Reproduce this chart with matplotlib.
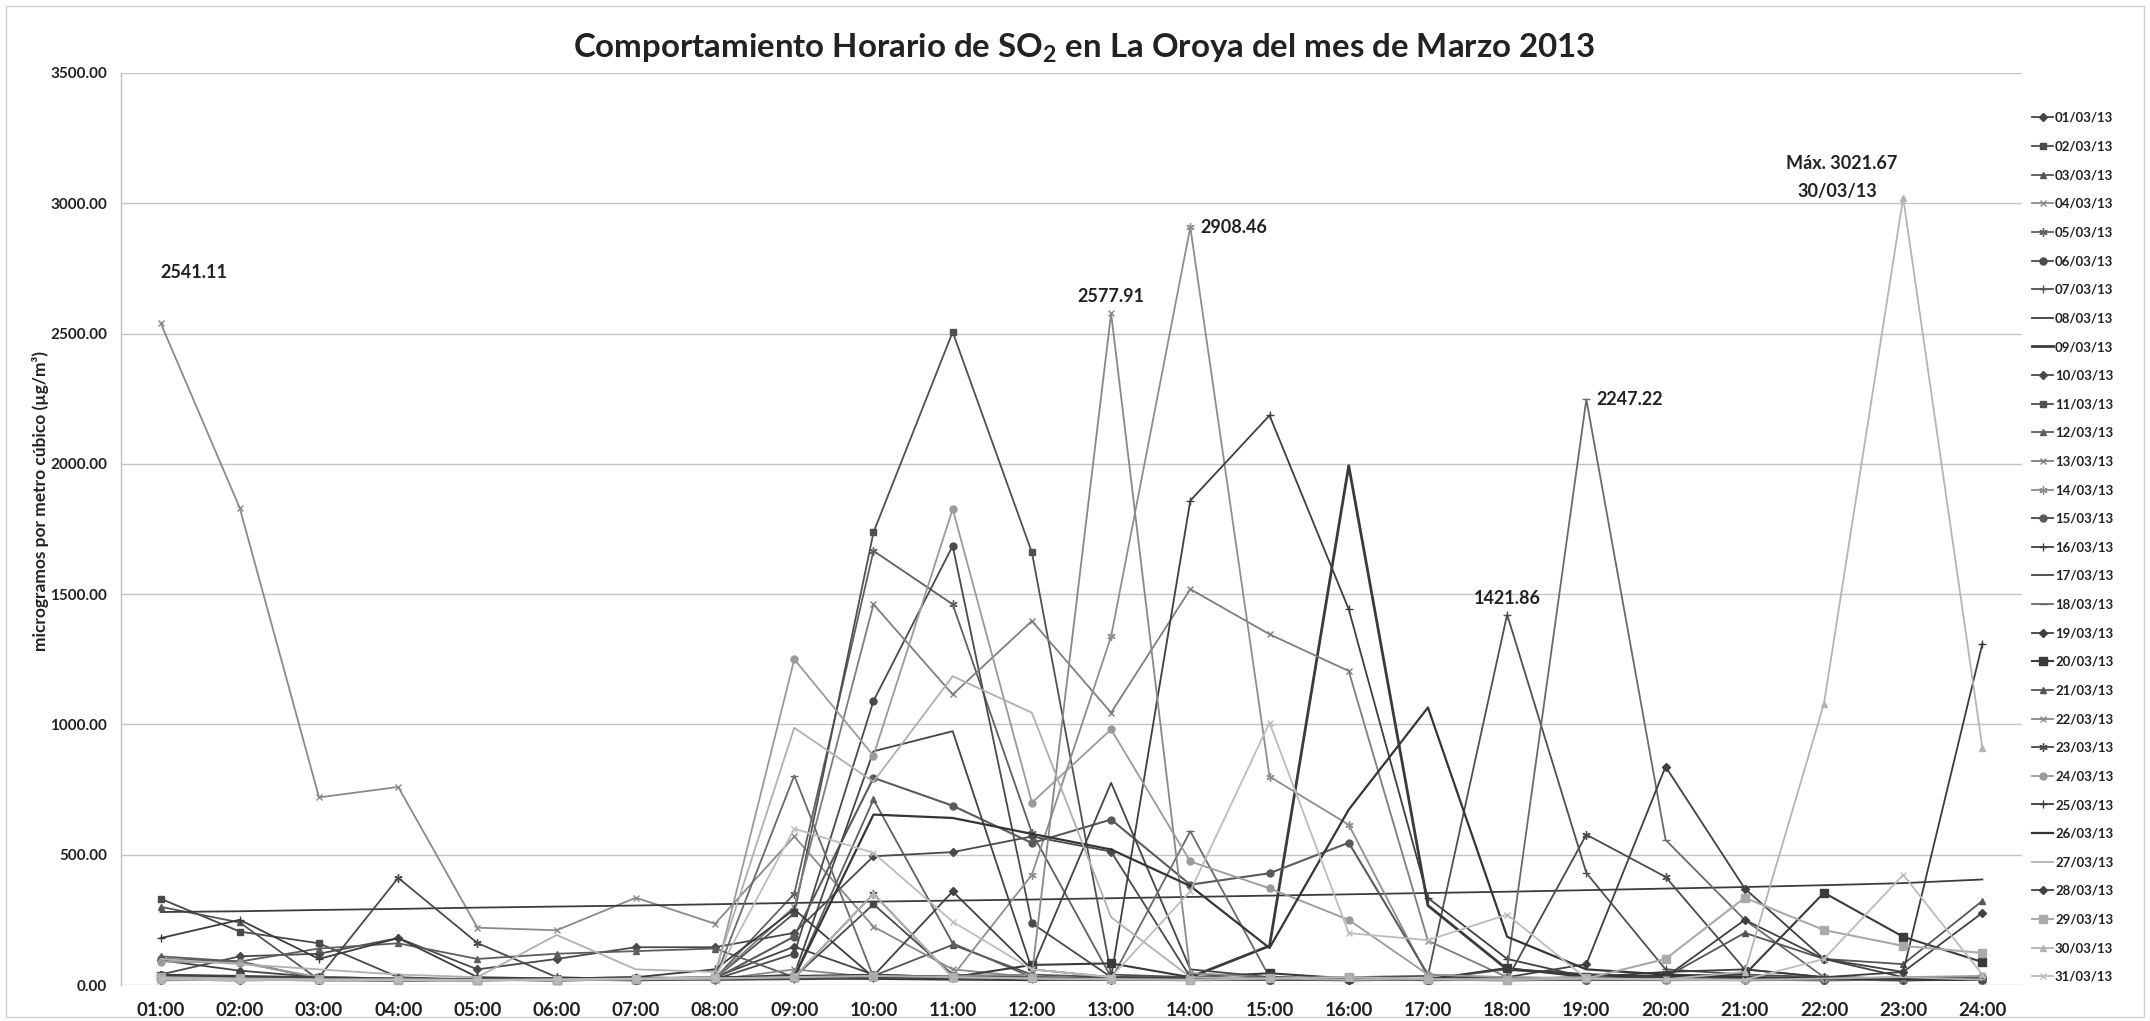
import matplotlib
matplotlib.use("Agg")
import matplotlib.pyplot as plt
from matplotlib.patches import Rectangle

plt.rcParams['font.family'] = ['Lato', 'DejaVu Sans']

hours = ["01:00", "02:00", "03:00", "04:00", "05:00", "06:00", "07:00", "08:00",
         "09:00", "10:00", "11:00", "12:00", "13:00", "14:00", "15:00", "16:00",
         "17:00", "18:00", "19:00", "20:00", "21:00", "22:00", "23:00", "24:00"]

dates = ["01/03/13", "02/03/13", "03/03/13", "04/03/13", "05/03/13", "06/03/13",
         "07/03/13", "08/03/13", "09/03/13", "10/03/13", "11/03/13", "12/03/13",
         "13/03/13", "14/03/13", "15/03/13", "16/03/13", "17/03/13", "18/03/13",
         "19/03/13", "20/03/13", "21/03/13", "22/03/13", "23/03/13", "24/03/13",
         "25/03/13", "26/03/13", "27/03/13", "28/03/13", "29/03/13", "30/03/13",
         "31/03/13"]

d01 = [95, 55, 30, 25, 20, 22, 25, 30, 147, 40, 30, 25, 20, 18, 20, 25, 20, 22, 30, 25, 20, 18, 20, 25]
d02 = [331, 205, 160, 30, 20, 18, 20, 22, 30, 310, 40, 30, 25, 22, 20, 18, 20, 20, 22, 25, 30, 25, 22, 20]
d03 = [300, 240, 20, 20, 18, 20, 22, 25, 30, 35, 154, 40, 30, 25, 20, 22, 20, 18, 20, 22, 25, 30, 25, 20]
d04 = [2541.11, 1830, 720, 760, 220, 210, 335, 235, 570, 224, 60, 30, 25, 20, 22, 25, 20, 18, 20, 22, 25, 20, 18, 20]
d05 = [20, 18, 20, 22, 20, 18, 20, 25, 350, 1666, 1461, 584, 30, 25, 20, 18, 20, 22, 20, 18, 20, 22, 25, 20]
d06 = [25, 20, 18, 20, 22, 20, 18, 22, 120, 1090, 1685, 237, 30, 25, 20, 22, 18, 20, 22, 25, 20, 18, 20, 22]
d07 = [30, 25, 22, 20, 18, 20, 22, 25, 30, 35, 30, 25, 22, 20, 25, 30, 35, 1421.86, 430, 60, 40, 30, 25, 22]
d08 = [280, 283, 288, 292, 297, 301, 305, 310, 315, 320, 324, 328, 333, 338, 343, 348, 353, 358, 364, 370, 376, 383, 391, 405]
d09 = [20, 22, 20, 18, 20, 22, 20, 25, 30, 25, 22, 20, 25, 30, 150, 1993, 305, 60, 40, 30, 25, 22, 20, 25]
d10 = [40, 110, 120, 180, 60, 100, 145, 145, 200, 494, 510, 570, 512, 30, 25, 20, 22, 25, 20, 22, 25, 20, 22, 25]
d11 = [30, 25, 22, 20, 20, 18, 20, 25, 275, 1737, 2506, 1660, 40, 30, 25, 22, 20, 22, 25, 20, 22, 25, 20, 22]
d12 = [110, 90, 140, 160, 100, 120, 130, 140, 30, 712, 160, 30, 25, 20, 22, 25, 20, 18, 20, 22, 25, 20, 22, 30]
d13 = [20, 18, 20, 22, 20, 18, 22, 25, 300, 1461, 1115, 1397, 1045, 1519, 1346, 1205, 170, 30, 25, 20, 22, 20, 18, 20]
d14 = [22, 20, 18, 20, 22, 20, 18, 20, 25, 30, 35, 423, 1338, 2908.46, 800, 615, 30, 25, 22, 20, 18, 20, 22, 25]
d15 = [100, 90, 25, 20, 20, 22, 20, 25, 186, 795, 688, 545, 635, 385, 429, 546, 40, 25, 20, 22, 25, 20, 22, 25]
d16 = [25, 22, 20, 18, 20, 22, 25, 20, 22, 25, 30, 25, 30, 1859, 2186, 1442, 334, 100, 30, 25, 22, 20, 18, 20]
d17 = [30, 25, 20, 22, 20, 25, 30, 25, 40, 897, 974, 60, 776, 60, 30, 25, 22, 20, 25, 30, 25, 22, 20, 25]
d18 = [20, 22, 25, 20, 18, 20, 22, 25, 804, 30, 25, 22, 20, 590, 30, 25, 22, 60, 2247.22, 557, 250, 30, 25, 20]
d19 = [30, 25, 20, 22, 25, 20, 22, 25, 30, 35, 359, 60, 30, 25, 22, 20, 25, 30, 80, 838, 370, 100, 30, 25]
d20 = [35, 30, 25, 22, 20, 18, 22, 25, 30, 35, 30, 77, 83, 30, 45, 25, 22, 65, 30, 35, 40, 354, 185, 88]
d21 = [20, 22, 20, 18, 22, 25, 20, 22, 25, 30, 35, 30, 25, 20, 22, 25, 20, 22, 25, 30, 200, 100, 80, 323]
d22 = [25, 22, 20, 18, 20, 22, 25, 20, 60, 30, 35, 40, 2577.91, 45, 30, 25, 20, 22, 25, 20, 18, 20, 22, 25]
d23 = [20, 18, 30, 411, 161, 30, 22, 25, 30, 350, 30, 25, 22, 20, 25, 30, 20, 22, 577, 415, 60, 30, 25, 20]
d24 = [90, 85, 30, 25, 20, 22, 25, 30, 1250, 880, 1827, 700, 981, 474, 371, 250, 40, 30, 25, 22, 20, 25, 30, 35]
d25 = [180, 250, 100, 180, 30, 25, 30, 60, 290, 30, 25, 22, 20, 25, 30, 22, 20, 25, 30, 50, 60, 30, 50, 1310]
d26 = [30, 25, 20, 22, 20, 25, 20, 25, 30, 654, 641, 580, 520, 380, 142, 673, 1065, 185, 60, 40, 30, 25, 22, 20]
d27 = [100, 80, 60, 40, 30, 192, 60, 50, 987, 780, 1185, 1045, 260, 30, 25, 20, 22, 25, 30, 22, 20, 25, 30, 20]
d28 = [40, 35, 30, 25, 22, 20, 25, 30, 35, 40, 30, 25, 22, 20, 25, 30, 22, 20, 25, 30, 250, 100, 50, 277]
d29 = [30, 25, 22, 20, 18, 20, 22, 25, 30, 35, 30, 25, 22, 20, 25, 30, 22, 20, 25, 100, 335, 211, 150, 123]
d30 = [20, 18, 20, 22, 20, 18, 22, 25, 30, 350, 30, 25, 22, 20, 25, 30, 22, 20, 25, 22, 50, 1080, 3021.67, 910]
d31 = [25, 22, 20, 18, 20, 22, 25, 30, 600, 507, 243, 60, 30, 360, 1007, 199, 172, 270, 25, 22, 20, 100, 423, 40]

series = [d01, d02, d03, d04, d05, d06, d07, d08, d09, d10, d11, d12, d13, d14, d15, d16,
          d17, d18, d19, d20, d21, d22, d23, d24, d25, d26, d27, d28, d29, d30, d31]

ast = (6, 2, 0)
markers = ['D', 's', '^', 'x', ast, 'o', '+', None, None, 'D', 's', '^', 'x', ast, 'o', '+',
           None, '_', 'D', 's', '^', 'x', ast, 'o', '+', None, None, 'D', 's', '^', 'x']
msizes = [4, 5, 5, 5, 6, 5, 6, 0, 0, 4, 5, 5, 5, 6, 5, 6, 0, 6, 4, 6, 5, 5, 6, 5, 6, 0, 0, 4, 6, 5, 5]
colors = ['#444444', '#4a4a4a', '#555555', '#8a8a8a', '#606060', '#4a4a4a', '#505050', '#3c3c3c',
          '#3a3a3a', '#4a4a4a', '#505050', '#5e5e5e', '#7e7e7e', '#8e8e8e', '#5a5a5a', '#3f3f3f',
          '#444444', '#6a6a6a', '#404040', '#3a3a3a', '#555555', '#888888', '#4a4a4a', '#9a9a9a',
          '#3c3c3c', '#353535', '#b0b0b0', '#404040', '#aaaaaa', '#b4b4b4', '#bcbcbc']
widths = [1.3, 1.3, 1.3, 1.3, 1.3, 1.3, 1.3, 1.3, 2.0, 1.3, 1.3, 1.3, 1.3, 1.3, 1.5, 1.3,
          1.3, 1.3, 1.3, 1.5, 1.3, 1.3, 1.3, 1.3, 1.3, 1.6, 1.3, 1.3, 1.5, 1.3, 1.3]

TXT = '#222222'

fig = plt.figure(figsize=(21.5, 10.21), dpi=100)
fig.patch.set_facecolor('white')
fig.patches.append(Rectangle((0.003, 0.004), 0.994, 0.99, transform=fig.transFigure,
                             fill=False, edgecolor='#cfcfcf', lw=1.0))

ax = fig.add_axes([121 / 2150, 36 / 1021, 1901 / 2150, 912 / 1021])
x = list(range(len(hours)))
handles = []
for i, s in enumerate(series):
    h, = ax.plot(x, s, color=colors[i], lw=widths[i], marker=markers[i],
                 markersize=msizes[i], markeredgewidth=1.0, label=dates[i], zorder=3)
    handles.append(h)

ax.set_xlim(-0.5, 23.5)
ax.set_ylim(0, 3500)
ax.set_yticks(range(0, 3501, 500))
ax.set_yticklabels([f"{v:.2f}" for v in range(0, 3501, 500)], fontsize=11,
                   fontweight='bold', color=TXT)
ax.set_xticks(x)
ax.set_xticklabels(hours, fontsize=13.5, fontweight='bold', color=TXT)
ax.tick_params(axis='both', length=0)
ax.tick_params(axis='x', pad=12)
ax.tick_params(axis='y', pad=10)
ax.grid(axis='y', color='#c4c4c4', lw=1.0, zorder=0)
for sp in ['top', 'right', 'bottom']:
    ax.spines[sp].set_visible(False)
ax.spines['left'].set_color('#c0c0c0')
ax.spines['left'].set_linewidth(1.0)

ax.set_ylabel("microgramos por metro cúbico (µg/m³)", fontsize=12.5, fontweight='bold',
              color=TXT)
ax.yaxis.set_label_coords(-0.038, 0.531)

fig.text(1084 / 2150, 1 - 48 / 1021,
         "Comportamiento Horario de SO$_\\mathregular{2}$ en La Oroya del mes de Marzo 2013",
         ha='center', va='center', fontsize=23.8, fontweight='bold', color=TXT)

ann_kw = dict(fontsize=13, fontweight='bold', color=TXT, textcoords='offset pixels')
ax.annotate("2541.11", (0, d04[0]), xytext=(0, 42), ha='left', va='bottom', **ann_kw)
ax.annotate("2577.91", (12, d22[12]), xytext=(0, 8), ha='center', va='bottom', **ann_kw)
ax.annotate("2908.46", (13, d14[13]), xytext=(10, 0), ha='left', va='center', **ann_kw)
ax.annotate("1421.86", (17, d07[17]), xytext=(0, 8), ha='center', va='bottom', **ann_kw)
ax.annotate("2247.22", (18, d18[18]), xytext=(10, 0), ha='left', va='center', **ann_kw)
ax.annotate("Máx. 3021.67", (22, d30[22]), xytext=(-6, 34), ha='right', va='center', **ann_kw)
ax.annotate("30/03/13", (22, d30[22]), xytext=(-26, 6), ha='right', va='center', **ann_kw)

leg = fig.legend(handles=handles, loc='upper left', bbox_to_anchor=(2032 / 2150, 1 - 112 / 1021),
                 frameon=False, fontsize=9.5, labelspacing=1.26, handlelength=1.6,
                 handletextpad=0.15, borderaxespad=0, borderpad=0)
for t in leg.get_texts():
    t.set_fontweight('bold')
    t.set_color(TXT)

fig.savefig("out.png", dpi=100, facecolor='white')
